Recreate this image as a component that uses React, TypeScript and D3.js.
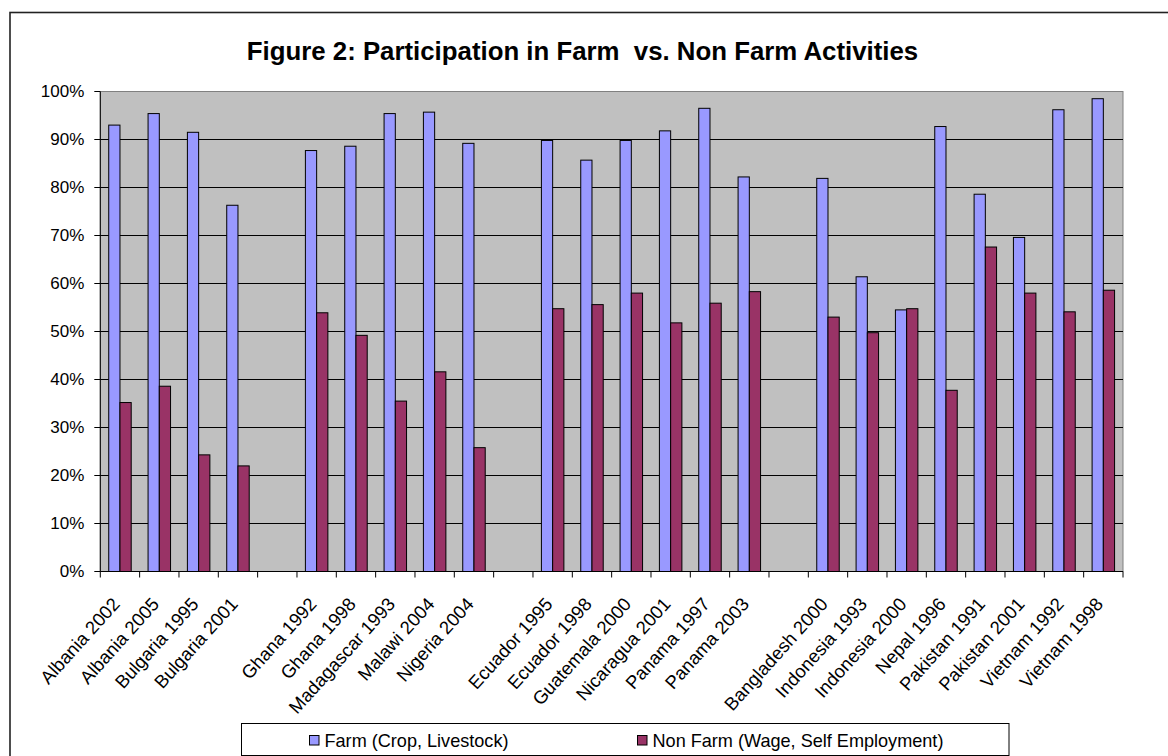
import React from "react";
import * as d3 from "d3";

const categories: string[] = [
  "Albania 2002", "Albania 2005", "Bulgaria 1995", "Bulgaria 2001", "",
  "Ghana 1992", "Ghana 1998", "Madagascar 1993", "Malawi 2004", "Nigeria 2004", "",
  "Ecuador 1995", "Ecuador 1998", "Guatemala 2000", "Nicaragua 2001", "Panama 1997", "Panama 2003", "",
  "Bangladesh 2000", "Indonesia 1993", "Indonesia 2000", "Nepal 1996", "Pakistan 1991", "Pakistan 2001", "Vietnam 1992", "Vietnam 1998",
];

const farm: (number | null)[] = [
  93.0, 95.4, 91.5, 76.3, null,
  87.7, 88.6, 95.4, 95.7, 89.2, null,
  89.8, 85.7, 89.8, 91.8, 96.5, 82.2, null,
  81.9, 61.4, 54.5, 92.7, 78.6, 69.6, 96.2, 98.5,
];

const nonFarm: (number | null)[] = [
  35.2, 38.6, 24.3, 22.0, null,
  53.9, 49.2, 35.5, 41.6, 25.8, null,
  54.75, 55.6, 58.0, 51.8, 55.9, 58.3, null,
  53.0, 49.75, 54.75, 37.75, 67.6, 58.0, 54.1, 58.6,
];

const yTicks: number[] = [0, 10, 20, 30, 40, 50, 60, 70, 80, 90, 100];

const seriesNames = ["Farm (Crop, Livestock)", "Non Farm (Wage, Self Employment)"];
const seriesColors = ["#9999FF", "#993366"];

const title = "Figure 2: Participation in Farm\u00A0 vs. Non Farm Activities";

const FONT = "Arial, 'Liberation Sans', sans-serif";

export default function App() {
  const W = 1168, H = 756;
  const left = 100.3, right = 1123, top = 91.5, bottom = 571.5;

  const idx = categories.map((_, i) => String(i));
  const x0 = d3.scaleBand<string>().domain(idx).range([left, right]).padding(0);
  const x1 = d3.scaleBand<string>().domain(["farm", "nonfarm"]).range([0, x0.bandwidth()]).paddingInner(0).paddingOuter(0.75);
  const y = d3.scaleLinear().domain([0, 100]).range([bottom, top]);

  const series = [
    { key: "farm", values: farm, color: seriesColors[0] },
    { key: "nonfarm", values: nonFarm, color: seriesColors[1] },
  ];

  const boundaries = d3.range(categories.length + 1).map((i) => left + i * x0.step());

  return (
    <svg width={W} height={H} style={{ position: "absolute", left: 0, top: 0, background: "#fff" }}>
      <rect x={10} y={12.5} width={1400} height={1000} fill="#fff" stroke="#222" strokeWidth={1.6} />
      <text x={582.5} y={60} textAnchor="middle" fontFamily={FONT} fontWeight="bold" fontSize={25.8} fill="#000">
        {title}
      </text>
      <rect x={left} y={top} width={right - left} height={bottom - top} fill="#C0C0C0" stroke="#808080" strokeWidth={1} />
      {yTicks.filter((t) => t > 0 && t < 100).map((t) => (
        <line key={"g" + t} x1={left} x2={right} y1={y(t)} y2={y(t)} stroke="#000" strokeWidth={1} />
      ))}
      {series.map((s) =>
        s.values.map((v, i) =>
          v == null ? null : (
            <rect
              key={s.key + i}
              x={(x0(String(i)) as number) + (x1(s.key) as number)}
              y={y(v)}
              width={x1.bandwidth()}
              height={y(0) - y(v)}
              fill={s.color}
              stroke="#000"
              strokeWidth={1}
            />
          )
        )
      )}
      <line x1={left} x2={left} y1={top} y2={bottom} stroke="#000" strokeWidth={1} />
      <line x1={left} x2={right} y1={bottom} y2={bottom} stroke="#000" strokeWidth={1} />
      {yTicks.map((t) => (
        <g key={"yt" + t}>
          <line x1={left - 6} x2={left} y1={y(t)} y2={y(t)} stroke="#000" />
          <text x={left - 16} y={y(t)} dy="0.35em" textAnchor="end" fontFamily={FONT} fontSize={17} fill="#000">
            {t + "%"}
          </text>
        </g>
      ))}
      {boundaries.map((b, i) => (
        <line key={"xt" + i} x1={b} x2={b} y1={bottom} y2={bottom + 6} stroke="#000" />
      ))}
      {categories.map((c, i) =>
        c === "" ? null : (
          <text
            key={"xl" + i}
            transform={`translate(${(x0(String(i)) as number) + x0.bandwidth() / 2 - 9},${596}) rotate(-48)`}
            dy="0.72em"
            textAnchor="end"
            fontFamily={FONT}
            fontSize={18.5}
            fill="#000"
          >
            {c}
          </text>
        )
      )}
      <rect x={241.5} y={723.5} width={767.5} height={32} fill="#fff" stroke="#000" strokeWidth={1} />
      {seriesNames.map((n, i) => {
        const sx = [309.5, 637.5][i];
        return (
          <g key={"lg" + i}>
            <rect x={sx} y={735.5} width={9.5} height={9.5} fill={seriesColors[i]} stroke="#000" strokeWidth={1} />
            <text x={sx + 15} y={740.5} dy="0.35em" fontFamily={FONT} fontSize={18.1} fill="#000">
              {n}
            </text>
          </g>
        );
      })}
    </svg>
  );
}
